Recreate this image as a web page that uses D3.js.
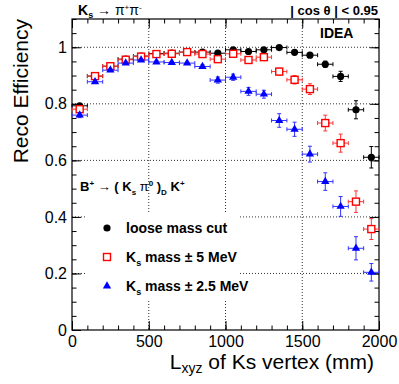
<!DOCTYPE html>
<html>
<head>
<meta charset="utf-8">
<script src="https://cdn.jsdelivr.net/npm/d3@7"></script>
<style>
body { margin: 0; background: #fff; }
svg text { font-family: "Liberation Sans", Arial, Helvetica, sans-serif; }
</style>
</head>
<body>
<div id="chart"></div>
<script>
// bin centres (mm), bin half-width 50
var binCentres = [50, 150, 250, 350, 450, 550, 650, 750, 850, 950, 1050, 1150, 1250, 1350, 1450, 1550, 1650, 1750, 1850, 1950];
var looseEff = [0.793, 0.898, 0.933, 0.958, 0.969, 0.978, 0.979, 0.983, 0.983, 0.979, 0.991, 0.985, 0.991, 0.999, 0.982, 0.972, 0.940, 0.897, 0.779, 0.611];
var looseErr = [0.008, 0.006, 0.005, 0.004, 0.004, 0.003, 0.003, 0.003, 0.003, 0.003, 0.003, 0.003, 0.004, 0.004, 0.006, 0.008, 0.011, 0.018, 0.032, 0.038];
var mass5Eff = [0.781, 0.898, 0.933, 0.956, 0.967, 0.976, 0.977, 0.983, 0.976, 0.958, 0.977, 0.955, 0.965, 0.914, 0.885, 0.852, 0.732, 0.661, 0.454, 0.357];
var mass5Err = [0.009, 0.006, 0.005, 0.004, 0.004, 0.003, 0.003, 0.003, 0.004, 0.006, 0.005, 0.007, 0.008, 0.012, 0.015, 0.019, 0.028, 0.032, 0.038, 0.037];
var mass25Eff = [0.760, 0.878, 0.919, 0.944, 0.955, 0.948, 0.946, 0.944, 0.932, 0.884, 0.894, 0.844, 0.834, 0.741, 0.710, 0.622, 0.525, 0.437, 0.289, 0.204];
var mass25Err = [0.009, 0.006, 0.005, 0.004, 0.004, 0.004, 0.004, 0.004, 0.006, 0.011, 0.011, 0.014, 0.014, 0.024, 0.025, 0.028, 0.031, 0.035, 0.041, 0.031];
var binHalf = 50;

var xTicks = [0, 500, 1000, 1500, 2000];
var yTicks = [0, 0.2, 0.4, 0.6, 0.8, 1];
var yTickLabels = ["0", "0.2", "0.4", "0.6", "0.8", "1"];
var xGrid = [500, 1000, 1500];
var yGrid = [0.2, 0.4, 0.6, 0.8, 1];

var margin = { top: 19, right: 20, bottom: 54, left: 72 };
var width = 399 - margin.left - margin.right;
var height = 384 - margin.top - margin.bottom;

var x = d3.scaleLinear().domain([0, 2000]).range([0, width]);
var y = d3.scaleLinear().domain([0, 1.1]).range([height, 0]);

var svg = d3.select("#chart")
    .append("svg")
    .attr("width", 399)
    .attr("height", 384);

var g = svg.append("g")
    .attr("transform", "translate(" + margin.left + "," + margin.top + ")");

// grid
g.selectAll(".gx").data(xGrid).enter().append("line")
    .attr("x1", d => x(d)).attr("x2", d => x(d))
    .attr("y1", 0).attr("y2", height)
    .attr("stroke", "#333").attr("stroke-width", 1)
    .attr("stroke-dasharray", "1,2");
g.selectAll(".gy").data(yGrid).enter().append("line")
    .attr("x1", 0).attr("x2", width)
    .attr("y1", d => y(d)).attr("y2", d => y(d))
    .attr("stroke", "#333").attr("stroke-width", 1)
    .attr("stroke-dasharray", "1,2");

// legend box hides the grid
g.append("rect")
    .attr("x", 15).attr("y", 193)
    .attr("width", 153).attr("height", 88)
    .attr("fill", "#fff");

// axes (ROOT style: ticks inside, on all sides)
function styleAxis(sel) {
    sel.select(".domain").remove();
    sel.selectAll("line").attr("stroke", "#000");
    sel.selectAll("text").attr("font-size", 16).attr("fill", "#000");
}
g.append("g").attr("transform", "translate(0," + height + ")")
    .call(d3.axisBottom(x).tickValues(xTicks).tickSize(-9).tickPadding(6).tickFormat(d3.format("d")))
    .call(styleAxis);
g.append("g").attr("transform", "translate(0," + height + ")")
    .call(d3.axisBottom(x).tickValues(d3.range(0, 2001, 100)).tickSize(-4.5).tickFormat(""))
    .call(styleAxis);
g.append("g")
    .call(d3.axisTop(x).tickValues(xTicks).tickSize(-9).tickFormat(""))
    .call(styleAxis);
g.append("g")
    .call(d3.axisTop(x).tickValues(d3.range(0, 2001, 100)).tickSize(-4.5).tickFormat(""))
    .call(styleAxis);
g.append("g")
    .call(d3.axisLeft(y).tickValues(yTicks).tickSize(-9).tickPadding(5).tickFormat((d, i) => yTickLabels[i]))
    .call(styleAxis);
g.append("g")
    .call(d3.axisLeft(y).tickValues(d3.range(0, 1.1001, 0.05)).tickSize(-4.5).tickFormat(""))
    .call(styleAxis);
g.append("g").attr("transform", "translate(" + width + ",0)")
    .call(d3.axisRight(y).tickValues(yTicks).tickSize(-9).tickFormat(""))
    .call(styleAxis);
g.append("g").attr("transform", "translate(" + width + ",0)")
    .call(d3.axisRight(y).tickValues(d3.range(0, 1.1001, 0.05)).tickSize(-4.5).tickFormat(""))
    .call(styleAxis);

g.append("rect")
    .attr("x", 0).attr("y", 0)
    .attr("width", width).attr("height", height)
    .attr("fill", "none").attr("stroke", "#000").attr("stroke-width", 1.2);

// series with error bars
var series = [
    { vals: looseEff, errs: looseErr, color: "#000", errColor: "#000", marker: "circle" },
    { vals: mass5Eff, errs: mass5Err, color: "#f00", errColor: "#f33", marker: "square" },
    { vals: mass25Eff, errs: mass25Err, color: "#00f", errColor: "#33f", marker: "triangle" }
];

function drawMarker(sel, type, color) {
    if (type === "circle") {
        sel.append("circle").attr("r", 3.6).attr("fill", color);
    } else if (type === "square") {
        sel.append("rect").attr("x", -3.5).attr("y", -3.5).attr("width", 7).attr("height", 7)
            .attr("fill", "#fff").attr("stroke", color).attr("stroke-width", 1.4);
    } else {
        sel.append("path").attr("d", d3.symbol().type(d3.symbolTriangle).size(30)).attr("fill", color);
    }
}

series.forEach(function (s) {
    var pts = g.append("g").selectAll("g").data(binCentres).enter().append("g");
    var cap = 2;
    pts.each(function (d, i) {
        var p = d3.select(this);
        var cx = x(d), cy = y(s.vals[i]);
        var y1 = y(s.vals[i] + s.errs[i]), y2 = y(s.vals[i] - s.errs[i]);
        var xa = x(d - binHalf), xb = x(d + binHalf);
        var paths = "M" + xa + "," + cy + "H" + xb +
            "M" + xa + "," + (cy - cap) + "V" + (cy + cap) +
            "M" + xb + "," + (cy - cap) + "V" + (cy + cap) +
            "M" + cx + "," + y1 + "V" + y2 +
            "M" + (cx - cap) + "," + y1 + "H" + (cx + cap) +
            "M" + (cx - cap) + "," + y2 + "H" + (cx + cap);
        p.append("path").attr("d", paths).attr("stroke", s.errColor).attr("stroke-width", 1).attr("fill", "none");
        var m = p.append("g").attr("transform", "translate(" + cx + "," + cy + ")");
        drawMarker(m, s.marker, s.color);
    });
});

// legend
var legendRows = [
    { marker: "circle", color: "#000", pre: "", sub: "", post: "loose mass cut" },
    { marker: "square", color: "#f00", pre: "K", sub: "s", post: " mass \u00b1 5 MeV" },
    { marker: "triangle", color: "#00f", pre: "K", sub: "s", post: " mass \u00b1 2.5 MeV" }
];
legendRows.forEach(function (r, i) {
    var ly = 209 + i * 29;
    var m = g.append("g").attr("transform", "translate(" + 35 + "," + ly + ")");
    drawMarker(m, r.marker, r.color);
    var t = g.append("text").attr("x", 54).attr("y", ly + 5)
        .attr("font-size", 14).attr("font-weight", "bold");
    if (r.pre) {
        t.append("tspan").text(r.pre);
        t.append("tspan").attr("font-size", 9).attr("dy", 4).text(r.sub);
        t.append("tspan").attr("dy", -4).text(r.post);
    } else {
        t.text(r.post);
    }
});

// decay label
var dl = g.append("text").attr("x", 8).attr("y", 172).attr("font-size", 13).attr("font-weight", "bold");
dl.append("tspan").text("B");
dl.append("tspan").attr("font-size", 8).attr("dy", -5).text("+");
dl.append("tspan").attr("dy", 5).attr("font-weight", "normal").text(" \u2192 ");
dl.append("tspan").text("( K");
dl.append("tspan").attr("font-size", 8).attr("dy", 4).text("s");
dl.append("tspan").attr("dy", -4).attr("font-weight", "normal").text("  \u03c0");
dl.append("tspan").attr("font-size", 8).attr("dy", -5).text("0");
dl.append("tspan").attr("dy", 5).text(" )");
dl.append("tspan").attr("font-size", 8).attr("dy", 4).text("D");
dl.append("tspan").attr("dy", -4).text(" K");
dl.append("tspan").attr("font-size", 8).attr("dy", -5).text("+");

// IDEA
g.append("text").attr("x", 248).attr("y", 19).attr("font-size", 14).attr("font-weight", "bold").text("IDEA");

// top labels
var tl = svg.append("text").attr("x", 78).attr("y", 15).attr("font-size", 14);
tl.append("tspan").attr("font-weight", "bold").text("K");
tl.append("tspan").attr("font-size", 9).attr("font-weight", "bold").attr("dy", 3).text("s");
tl.append("tspan").attr("dy", -3).text(" \u2192 \u03c0");
tl.append("tspan").attr("font-size", 8).attr("dy", -5).text("+");
tl.append("tspan").attr("dy", 5).text("\u03c0");
tl.append("tspan").attr("font-size", 8).attr("dy", -5).text("-");

svg.append("text").attr("x", 378).attr("y", 15).attr("text-anchor", "end")
    .attr("font-size", 13).attr("font-weight", "bold")
    .text("| cos \u03b8 | < 0.95");

// axis titles
var xt = svg.append("text").attr("x", 374).attr("y", 369).attr("text-anchor", "end").attr("font-size", 21);
xt.append("tspan").text("L");
xt.append("tspan").attr("font-size", 14).attr("dy", 4).text("xyz");
xt.append("tspan").attr("dy", -4).text(" of Ks vertex (mm)");

svg.append("text")
    .attr("transform", "translate(28,19) rotate(-90)")
    .attr("text-anchor", "end").attr("font-size", 21)
    .text("Reco Efficiency");
</script>
</body>
</html>
